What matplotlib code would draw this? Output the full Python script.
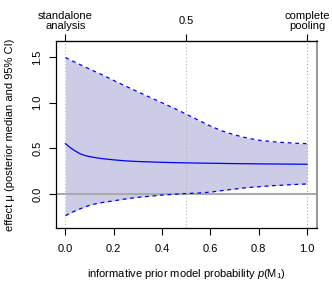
import numpy as np
import matplotlib
matplotlib.use("Agg")
import matplotlib.pyplot as plt

plt.rcParams['font.family'] = ['Liberation Sans', 'DejaVu Sans']
plt.rcParams['mathtext.fontset'] = 'custom'
plt.rcParams['mathtext.rm'] = 'Liberation Sans'
plt.rcParams['mathtext.it'] = 'Liberation Sans:italic'

# values
p_weight = [0.0, 0.02, 0.04, 0.06, 0.08, 0.1, 0.125, 0.15, 0.2, 0.25, 0.3, 0.4,
            0.45, 0.5, 0.55, 0.6, 0.65, 0.7, 0.75, 0.8, 0.85, 0.9, 0.95, 1.0]
mu_median = [0.552, 0.508, 0.472, 0.442, 0.422, 0.410, 0.398, 0.388, 0.374, 0.363,
             0.356, 0.347, 0.344, 0.341, 0.339, 0.337, 0.335, 0.333, 0.332, 0.330,
             0.329, 0.328, 0.327, 0.326]
mu_upper = [1.496, 1.47, 1.445, 1.42, 1.395, 1.37, 1.34, 1.31, 1.245, 1.182, 1.12,
            1.0, 0.94, 0.875, 0.81, 0.745, 0.69, 0.648, 0.615, 0.59, 0.575, 0.565,
            0.557, 0.552]
mu_lower = [-0.238, -0.21, -0.186, -0.164, -0.143, -0.125, -0.108, -0.095, -0.075,
            -0.054, -0.037, -0.012, -0.003, 0.005, 0.010, 0.020, 0.038, 0.054, 0.069,
            0.080, 0.090, 0.097, 0.104, 0.110]

top_ticks = [0.0, 0.5, 1.0]
top_labels = ["standalone\nanalysis", "0.5", "complete\npooling"]

fig = plt.figure(figsize=(3.32, 2.84), dpi=100)
ax = fig.add_axes([0.168, 0.196, 0.786, 0.660])

ax.fill_between(p_weight, mu_lower, mu_upper, color='#CCCCE6', lw=0)
ax.axvline(0.0, color='#66CC66', ls=(0, (1, 2)), lw=0.8, alpha=0.7)
ax.axvline(0.5, color='#BBBBBB', ls=(0, (1, 2)), lw=0.8)
ax.axvline(1.0, color='#E06666', ls=(0, (1, 2)), lw=0.8, alpha=0.8)
ax.axhline(0.0, color='#AAAAAA', lw=1.5)
ax.plot(p_weight, mu_median, color='#0000FF', lw=0.9)
ax.plot(p_weight, mu_upper, color='#0000FF', lw=0.9, ls=(0, (3, 3)))
ax.plot(p_weight, mu_lower, color='#0000FF', lw=0.9, ls=(0, (3, 3)))

ax.set_xlim(-0.04, 1.04)
ax.set_ylim(-0.377, 1.679)
ax.set_xticks([0.0, 0.2, 0.4, 0.6, 0.8, 1.0])
ax.set_xticklabels(["0.0", "0.2", "0.4", "0.6", "0.8", "1.0"])
ax.set_yticks([0.0, 0.5, 1.0, 1.5])
ax.set_yticklabels(["0.0", "0.5", "1.0", "1.5"], rotation=90, va='center')
ax.tick_params(axis='x', length=5, width=0.8, pad=6.5, labelsize=8)
ax.tick_params(axis='y', length=5, width=0.8, pad=4.5, labelsize=8)
for s in ax.spines.values():
    s.set_linewidth(0.9)
ax.spines['right'].set_color('#999999')
ax.spines['right'].set_linewidth(1.5)

sec = ax.secondary_xaxis('top')
sec.set_xticks(top_ticks)
sec.set_xticklabels(top_labels, linespacing=1.0, va='center')
sec.tick_params(length=5, width=0.8, pad=9.4, labelsize=8)

ax.set_xlabel(r"informative prior model probability $p(\mathrm{M}_1)$", fontsize=8, labelpad=9)
ax.set_ylabel("effect μ (posterior median and 95% CI)", fontsize=8, labelpad=13)

fig.savefig("out.png", dpi=100)
